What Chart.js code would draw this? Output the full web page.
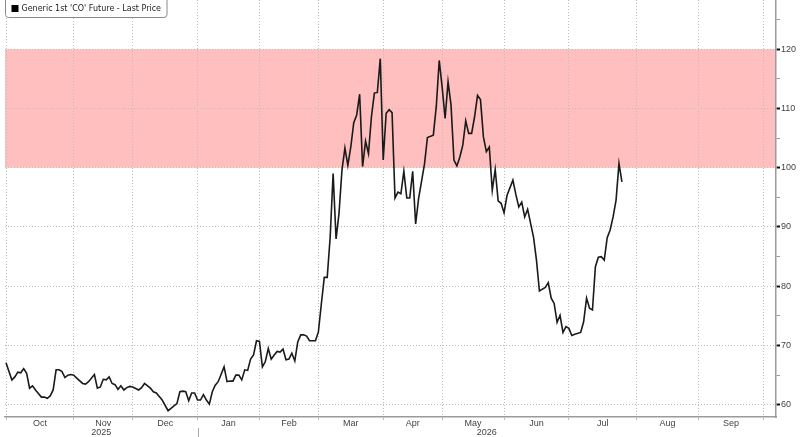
<!DOCTYPE html>
<html>
<head>
<meta charset="utf-8">
<script src="https://cdn.jsdelivr.net/npm/chart.js@4/dist/chart.umd.min.js"></script>
<style>
  body { margin: 0; background: #fff; }
  #wrap { width: 800px; height: 437px; }
</style>
</head>
<body>
<div id="wrap"><canvas id="coChart" width="800" height="437"></canvas></div>
<script>
const seriesName = "Generic 1st 'CO' Future - Last Price";

// trading-day index counted from 2025-10-01 (the axis skips weekends and holidays)
const tradingDays = [
  0, 2, 3, 4, 5, 6, 7, 8, 9, 10,
  11, 12, 13, 14, 15, 16, 17, 18, 19, 20,
  21, 22, 23, 24, 26, 27, 28, 30, 31, 32,
  33, 34, 35, 36, 37, 38, 39, 40, 41, 42,
  43, 45, 46, 47, 49, 50, 51, 52, 53, 55,
  56, 57, 58, 59, 60, 61, 62, 63, 64, 65,
  66, 67, 68, 69, 70, 71, 72, 74, 75, 76,
  77, 78, 79, 80, 81, 82, 83, 84, 85, 86,
  87, 88, 89, 90, 91, 92, 93, 94, 95, 96,
  97, 98, 99, 100, 101, 102, 103, 104, 105, 106,
  107, 108, 109, 110, 111, 112, 113, 114, 115, 116,
  117, 118, 119, 120, 121, 122, 123, 124, 125, 126,
  127, 128, 129, 130, 131, 132, 133, 134, 135, 136,
  137, 138, 139, 140, 142, 143, 145, 146, 147, 148,
  149, 150, 151, 152, 153, 154, 155, 156, 157, 158,
  159, 160, 161, 162, 163, 164, 165, 166, 167, 168,
  169, 170, 172, 173, 174, 175, 176, 177, 179, 180,
  181, 183, 184, 185, 186, 187, 188, 189, 190, 191,
  192, 193, 195, 196, 197, 198, 199, 200, 201, 202,
  203, 204, 205, 206, 207, 208, 209
];
const prices = [
  67.1, 64.2, 64.7, 65.5, 65.4, 66.1, 65.3, 62.8, 63.2, 62.5,
  61.9, 61.3, 61.3, 61.1, 61.5, 62.5, 65.9, 65.9, 65.6, 64.6,
  65.0, 65.1, 65.0, 64.5, 63.6, 63.5, 63.9, 65.1, 62.8, 63.0,
  64.3, 64.2, 64.7, 63.6, 63.4, 62.6, 63.2, 62.5, 62.9, 63.1,
  63.0, 62.5, 62.9, 63.6, 62.8, 62.2, 62.0, 61.4, 60.8, 59.0,
  59.4, 59.8, 60.2, 62.2, 62.3, 62.2, 60.7, 62.0, 62.0, 60.8,
  60.8, 61.7, 60.8, 60.1, 62.2, 63.3, 63.9, 66.4, 63.9, 64.0,
  64.0, 65.0, 65.0, 64.2, 65.9, 65.8, 67.7, 68.4, 70.8, 70.7,
  66.4, 67.3, 69.5, 67.7, 68.4, 69.0, 68.9, 69.4, 67.6, 67.7,
  68.7, 67.4, 70.6, 71.8, 71.8, 71.6, 70.8, 70.8, 70.8, 72.3,
  77.0, 81.5, 81.5, 88.3, 99.0, 88.0, 92.3, 99.6, 103.3, 100.4,
  103.5, 107.6, 108.9, 112.4, 100.2, 104.5, 102.4, 108.6, 112.6, 112.7,
  118.4, 101.3, 109.2, 109.8, 109.3, 94.9, 95.9, 95.6, 99.4, 94.9,
  94.9, 99.4, 90.5, 94.8, 100.6, 105.1, 105.5, 110.3, 118.1, 113.6,
  108.3, 114.5, 110.6, 101.3, 100.3, 101.8, 103.8, 107.9, 105.8, 105.8,
  108.6, 112.2, 111.5, 105.2, 102.7, 103.5, 96.2, 99.7, 94.4, 94.0,
  92.4, 95.3, 97.9, 95.5, 93.4, 94.2, 91.7, 93.0, 88.3, 84.4,
  79.2, 79.8, 80.6, 78.0, 77.1, 73.9, 75.1, 72.2, 73.2, 72.9,
  71.7, 71.9, 72.2, 74.0, 78.0, 76.3, 76.0, 83.3, 84.9, 85.0,
  84.4, 88.2, 89.5, 91.7, 94.5, 100.7, 97.6
];

// axis labels; month starts are trading-day indices (Oct 1 2025 .. Oct 1 2026)
const monthLabels = ['Oct', 'Nov', 'Dec', 'Jan', 'Feb', 'Mar', 'Apr', 'May', 'Jun', 'Jul', 'Aug', 'Sep'];
const monthStarts = [0, 23, 43, 65, 86, 106, 128, 148, 169, 191, 214, 235, 257];
const yearLabels = ['2025', '2026'];
const yearStart = 65; // Jan 1 2026
const yTicks = [60, 65, 70, 75, 80, 85, 90, 95, 100, 105, 110, 115, 120, 125];
const bandLow = 100;
const bandHigh = 120;

const labelFont = '9px "Liberation Sans", Arial, sans-serif';
const gridGrey = '#bdbdbd';

const points = tradingDays.map((d, i) => ({ x: d, y: prices[i] }));

// white page + the pink 100-120 band, under the grid
const bandPlugin = {
  id: 'band',
  beforeDraw(chart) {
    const { ctx, chartArea, scales } = chart;
    ctx.save();
    ctx.fillStyle = '#fff';
    ctx.fillRect(0, 0, chart.width, chart.height);
    const top = scales.y.getPixelForValue(bandHigh);
    const bottom = scales.y.getPixelForValue(bandLow);
    ctx.fillStyle = '#ffbfbf';
    ctx.fillRect(chartArea.left, top, chartArea.right - chartArea.left, bottom - top);
    ctx.restore();
  }
};

// month names between gridlines, years centred on their span, legend box
const labelsPlugin = {
  id: 'labels',
  afterDraw(chart) {
    const { ctx, chartArea, scales } = chart;
    const x = scales.x;
    ctx.save();
    ctx.font = labelFont;
    ctx.fillStyle = '#444';
    ctx.textAlign = 'center';
    ctx.textBaseline = 'middle';
    monthLabels.forEach((m, i) => {
      const mid = (x.getPixelForValue(monthStarts[i]) + x.getPixelForValue(monthStarts[i + 1])) / 2;
      ctx.fillText(m, mid, chartArea.bottom + 7);
    });
    const sep = x.getPixelForValue(yearStart);
    ctx.fillText(yearLabels[0], (chartArea.left + sep) / 2, chartArea.bottom + 16);
    ctx.fillText(yearLabels[1], (sep + chartArea.right) / 2, chartArea.bottom + 16);
    ctx.strokeStyle = '#aaa';
    ctx.lineWidth = 1;
    ctx.beginPath();
    ctx.moveTo(Math.round(sep) + 0.5, chartArea.bottom + 11);
    ctx.lineTo(Math.round(sep) + 0.5, chart.height);
    ctx.stroke();

    // legend
    ctx.font = '8px "DejaVu Sans", sans-serif';
    const tw = ctx.measureText(seriesName).width;
    const bx = chartArea.left + 0.5, by = -4.5, bw = tw + 22, bh = 22;
    ctx.beginPath();
    ctx.roundRect(bx, by, bw, bh, 3);
    ctx.fillStyle = '#fff';
    ctx.fill();
    ctx.strokeStyle = '#8a8a8a';
    ctx.stroke();
    ctx.fillStyle = '#000';
    ctx.fillRect(bx + 6, 5, 7, 7);
    ctx.fillStyle = '#222';
    ctx.textAlign = 'left';
    ctx.fillText(seriesName, bx + 16, 9);
    ctx.restore();
  }
};

new Chart(document.getElementById('coChart'), {
  type: 'line',
  data: {
    datasets: [{
      label: seriesName,
      data: points,
      borderColor: '#1a1a1a',
      borderWidth: 1.6,
      pointRadius: 0,
      tension: 0,
      fill: false
    }]
  },
  options: {
    responsive: false,
    animation: false,
    devicePixelRatio: 1,
    layout: { padding: { left: 5, top: 0, right: 0, bottom: 0 } },
    plugins: {
      legend: { display: false },
      tooltip: { enabled: false }
    },
    scales: {
      x: {
        type: 'linear',
        min: -0.34,
        max: 261.28,
        afterBuildTicks: (scale) => { scale.ticks = monthStarts.map(v => ({ value: v })); },
        afterFit: (scale) => {
          scale.height = 20;
          scale.paddingLeft = 0;
          scale.paddingRight = 0;
        },
        ticks: { display: false },
        grid: { color: gridGrey, lineWidth: 1, drawTicks: true, tickLength: 3, tickColor: gridGrey },
        border: { display: true, color: '#9a9a9a', width: 1.5, dash: [1, 2] }
      },
      y: {
        position: 'right',
        min: 57.94,
        max: 128.3,
        afterBuildTicks: (scale) => { scale.ticks = yTicks.map(v => ({ value: v })); },
        afterFit: (scale) => {
          scale.width = 24;
          scale.paddingTop = 0;
          scale.paddingBottom = 0;
        },
        ticks: {
          font: { family: '"Liberation Sans", Arial, sans-serif', size: 9 },
          color: '#444',
          padding: 1,
          callback: (v) => (v % 10 === 0 && v <= 120 ? String(v) : '')
        },
        grid: {
          color: (c) => (c.tick && c.tick.value % 10 === 0 ? gridGrey : 'rgba(0,0,0,0)'),
          lineWidth: 1,
          drawTicks: true,
          tickLength: 4,
          tickColor: (c) => (c.tick && c.tick.value % 10 === 0 ? '#111' : '#999'),
          tickWidth: (c) => (c.tick && c.tick.value % 10 === 0 ? 2 : 1)
        },
        border: { display: true, color: '#9a9a9a', width: 1.5, dash: [1, 2] }
      }
    }
  },
  plugins: [bandPlugin, labelsPlugin]
});
</script>
</body>
</html>
